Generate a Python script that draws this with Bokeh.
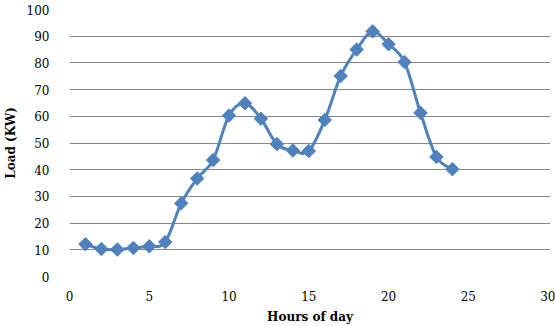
from bokeh.plotting import figure
from bokeh.embed import file_html
from bokeh.resources import INLINE
from bokeh.models import Range1d, FixedTicker
import math

hours = [1, 2, 3, 4, 5, 6, 7, 8, 9, 10, 11, 12, 13, 14, 15, 16, 17, 18, 19, 20, 21, 22, 23, 24]
load = [12.1, 10.3, 10.1, 10.7, 11.3, 12.9, 27.4, 36.7, 43.6, 60.3, 64.9, 59.1, 49.6, 47.2, 47.0, 58.6, 75.1, 85.0, 91.8, 87.0, 80.3, 61.3, 44.8, 40.2]
x_ticks = [0, 5, 10, 15, 20, 25, 30]
y_ticks = [0, 10, 20, 30, 40, 50, 60, 70, 80, 90, 100]

BLUE = "#4F81BD"

p = figure(width=555, height=326, output_backend="svg", toolbar_location=None,
           x_range=Range1d(0, 30.15), y_range=Range1d(0, 100),
           min_border_left=63, min_border_right=5, min_border_top=9, min_border_bottom=50)
p.outline_line_color = None
p.background_fill_color = "white"

# Smoothed line (Catmull-Rom as cubic Bezier segments, control points derived from the data)
n = len(hours)
x0, y0, x1, y1, cx0, cy0, cx1, cy1 = [], [], [], [], [], [], [], []
for i in range(n - 1):
    pm = (hours[max(i - 1, 0)], load[max(i - 1, 0)])
    pa = (hours[i], load[i])
    pb = (hours[i + 1], load[i + 1])
    pn = (hours[min(i + 2, n - 1)], load[min(i + 2, n - 1)])
    x0.append(pa[0]); y0.append(pa[1]); x1.append(pb[0]); y1.append(pb[1])
    cx0.append(pa[0] + (pb[0] - pm[0]) / 6); cy0.append(pa[1] + (pb[1] - pm[1]) / 6)
    cx1.append(pb[0] - (pn[0] - pa[0]) / 6); cy1.append(pb[1] - (pn[1] - pa[1]) / 6)
p.bezier(x0=x0, y0=y0, x1=x1, y1=y1, cx0=cx0, cy0=cy0, cx1=cx1, cy1=cy1,
         line_color=BLUE, line_width=3)
p.scatter(hours, load, marker="square", angle=math.pi / 4, size=9.5,
          fill_color=BLUE, line_color=BLUE)

font = "DejaVu Serif"
for ax in (p.xaxis[0], p.yaxis[0]):
    ax.axis_line_color = None
    ax.major_tick_line_color = None
    ax.minor_tick_line_color = None
    ax.major_label_text_font = font
    ax.major_label_text_font_size = "12px"
    ax.major_label_text_color = "black"
    ax.axis_label_text_font = font
    ax.axis_label_text_font_size = "12px"
    ax.axis_label_text_font_style = "bold"
    ax.axis_label_text_color = "black"

p.xaxis.ticker = FixedTicker(ticks=x_ticks)
p.yaxis.ticker = FixedTicker(ticks=y_ticks)
p.xaxis.axis_label = "Hours of day"
p.yaxis.axis_label = "Load (KW)"
p.xaxis.major_label_standoff = 8
p.yaxis.major_label_standoff = 14
p.xaxis.axis_label_standoff = 6
p.yaxis.axis_label_standoff = 6

p.xgrid.grid_line_color = None
p.ygrid.grid_line_color = "#878787"
p.ygrid.grid_line_width = 1.2

open("out.html", "w").write(file_html(p, INLINE))
